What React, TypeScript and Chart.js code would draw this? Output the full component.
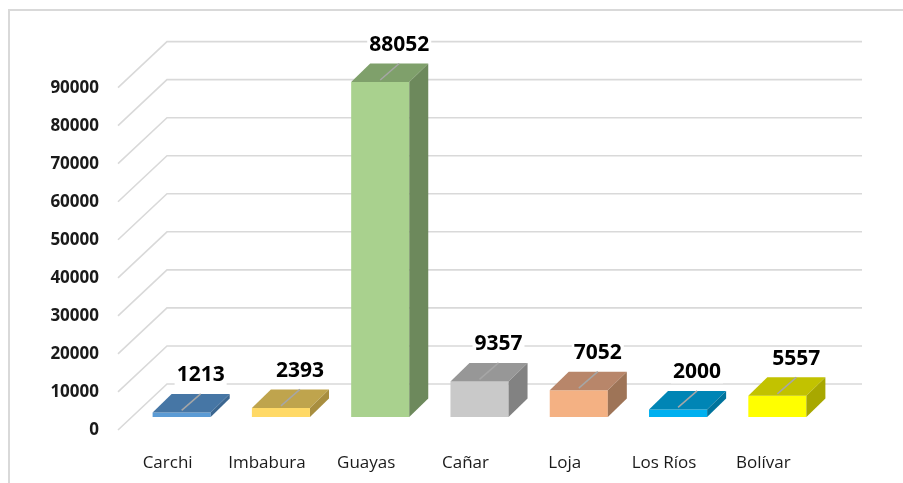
import React, { useEffect, useRef } from 'react';
import { Chart, registerables } from 'chart.js';

Chart.register(...registerables);

const categories = ['Carchi', 'Imbabura', 'Guayas', 'Cañar', 'Loja', 'Los Ríos', 'Bolívar'];
const values = [1213, 2393, 88052, 9357, 7052, 2000, 5557];
const frontColors = ['#5B9BD5', '#FFD966', '#A9D18E', '#C9C9C9', '#F4B183', '#00B0F0', '#FFFF00'];
const topColors = ['#4676A5', '#BFA44D', '#7FA06B', '#979797', '#B8866A', '#0085B5', '#C2C200'];
const sideColors = ['#3B6690', '#A88E3F', '#6D895C', '#828282', '#9E7457', '#00739C', '#A8A800'];
const yMin = 0;
const yMax = 90000;
const yStep = 10000;

// 3D projection offsets (pixels)
const BAR_DX = 19;
const BAR_DY = -18.5;
const FRONT_DX = -14;
const FRONT_DY = 13;
const BACK_DX = 35;
const BACK_DY = -33;

const FONT = "'Open Sans', 'DejaVu Sans', sans-serif";

const grid3d = {
  id: 'grid3d',
  beforeDatasetsDraw(chart: any) {
    const { ctx, chartArea: a } = chart;
    const ys = chart.scales.y;
    ctx.save();
    ctx.strokeStyle = '#d9d9d9';
    ctx.lineWidth = 1.6;
    ys.ticks.forEach((t: any) => {
      const py = ys.getPixelForValue(t.value);
      ctx.beginPath();
      ctx.moveTo(a.left + FRONT_DX, py + FRONT_DY);
      ctx.lineTo(a.left + BACK_DX, py + BACK_DY);
      ctx.lineTo(a.right + BACK_DX, py + BACK_DY);
      ctx.stroke();
    });
    ctx.restore();
  },
};

const bars3d = {
  id: 'bars3d',
  afterDatasetsDraw(chart: any) {
    const { ctx } = chart;
    const meta = chart.getDatasetMeta(0);
    ctx.save();
    meta.data.forEach((el: any, i: number) => {
      const { x, y, base, width } = el.getProps(['x', 'y', 'base', 'width'], true);
      const l = x - width / 2;
      const r = x + width / 2;
      // top face
      ctx.fillStyle = topColors[i];
      ctx.beginPath();
      ctx.moveTo(l, y);
      ctx.lineTo(r, y);
      ctx.lineTo(r + BAR_DX, y + BAR_DY);
      ctx.lineTo(l + BAR_DX, y + BAR_DY);
      ctx.closePath();
      ctx.fill();
      // side face
      ctx.fillStyle = sideColors[i];
      ctx.beginPath();
      ctx.moveTo(r, y);
      ctx.lineTo(r + BAR_DX, y + BAR_DY);
      ctx.lineTo(r + BAR_DX, base + BAR_DY);
      ctx.lineTo(r, base);
      ctx.closePath();
      ctx.fill();
      // leader line on top face
      ctx.strokeStyle = '#a6a6a6';
      ctx.lineWidth = 1.5;
      ctx.beginPath();
      ctx.moveTo(x, y - 2);
      ctx.lineTo(x + BAR_DX, y + BAR_DY);
      ctx.stroke();
    });
    // data labels
    ctx.font = `bold 21px ${FONT}`;
    ctx.textAlign = 'center';
    ctx.textBaseline = 'middle';
    meta.data.forEach((el: any, i: number) => {
      const { x, y } = el.getProps(['x', 'y'], true);
      const txt = String(values[i]);
      const cx = x + 19;
      const cy = y - 37;
      const w = ctx.measureText(txt).width;
      ctx.fillStyle = '#ffffff';
      ctx.fillRect(cx - w / 2 - 2, cy - 11, w + 4, 22);
      ctx.fillStyle = '#000000';
      ctx.fillText(txt, cx, cy);
    });
    ctx.restore();
  },
};

export default function App() {
  const ref = useRef<HTMLCanvasElement | null>(null);
  useEffect(() => {
    if (!ref.current) return;
    const chart = new Chart(ref.current, {
      type: 'bar',
      data: {
        labels: categories,
        datasets: [
          {
            data: values,
            backgroundColor: frontColors,
            borderWidth: 0,
            barPercentage: 0.585,
            categoryPercentage: 1,
          },
        ],
      },
      options: {
        responsive: false,
        animation: false,
        devicePixelRatio: 1,
        layout: { padding: { left: 0, right: 76, top: 74.6, bottom: 0 } },
        plugins: { legend: { display: false }, tooltip: { enabled: false }, title: { display: false } },
        scales: {
          x: {
            grid: { display: false, drawTicks: false },
            border: { display: false },
            ticks: {
              autoSkip: false,
              maxRotation: 0,
              labelOffset: FRONT_DX,
              padding: 36,
              color: '#1a1a1a',
              font: { family: FONT, size: 17 },
            },
            afterFit: (s: any) => {
              s.height = 66;
            },
          },
          y: {
            min: yMin,
            max: yMax,
            grid: { display: false, drawTicks: false },
            border: { display: false },
            ticks: {
              stepSize: yStep,
              padding: 33,
              labelOffset: FRONT_DY + 0.5,
              color: '#1a1a1a',
              font: { family: FONT, size: 17, weight: 'bold' },
              callback: (v: any) => String(v),
            },
            afterFit: (s: any) => {
              s.width = 132;
            },
          },
        },
      },
      plugins: [grid3d, bars3d],
    } as any);
    return () => chart.destroy();
  }, []);

  return (
    <div
      style={{
        position: 'fixed',
        left: 0,
        top: 0,
        width: 903,
        height: 483,
        overflow: 'hidden',
        background: '#ffffff',
      }}
    >
      <div
        style={{
          position: 'absolute',
          left: 8,
          top: 9,
          width: 920,
          height: 500,
          border: '2px solid #d9d9d9',
          boxSizing: 'border-box',
        }}
      />
      <canvas ref={ref} width={903} height={483} style={{ position: 'absolute', left: 0, top: 0, display: 'block' }} />
    </div>
  );
}
